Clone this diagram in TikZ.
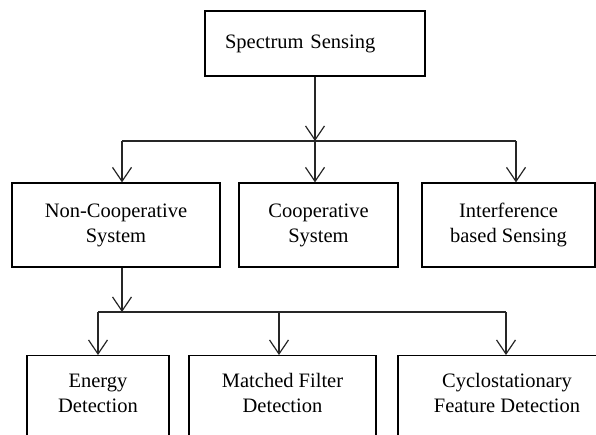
\documentclass[tikz,border=0pt]{standalone}
\usepackage{fontspec}
\setmainfont{Liberation Serif}
\usetikzlibrary{arrows.meta}

\begin{document}
\begin{tikzpicture}[x=1pt,y=1pt,line width=1.2pt,
  box/.style={draw,align=center,inner sep=0pt,font=\fontsize{20.5}{25}\selectfont},
  arr/.style={-{Straight Barb[length=14pt,width=19pt]},draw=black!85}]

\clip (0,0) rectangle (596,434);

% top
\node[box,minimum width=220pt,minimum height=65pt,text width=180pt,align=left] (S0) at (315,390.5) {Spectrum Sensing};

\coordinate (J0) at (315,293);
\coordinate (J1) at (122,293);
\coordinate (J3) at (516,293);

% 1
\node[box,minimum width=208pt,minimum height=84pt] (A1) at (116,209) {Non-Cooperative\\System};
\node[box,minimum width=159pt,minimum height=84pt] (A2) at (318.5,209) {Cooperative\\System};
\node[box,minimum width=173pt,minimum height=84pt] (A3) at (508.5,209) {Interference\\based Sensing};

\draw[arr] (S0) -- (J0);
\draw[draw=black!85] (J1) -- (J3);
\draw[arr] (J1) -- (J1 |- A1.north);
\draw[arr] (J0) -- (J0 |- A2.north);
\draw[arr] (J3) -- (J3 |- A3.north);

% 2
\coordinate (K0) at (122,122);
\coordinate (K1) at (98,122);
\coordinate (K2) at (279,122);
\coordinate (K3) at (506,122);

\node[box,anchor=north,minimum width=142pt,inner ysep=18pt,text depth=70pt] (B1) at (98,79) {Energy\\Detection};
\node[box,anchor=north,minimum width=187pt,inner ysep=18pt,text depth=70pt] (B2) at (282.5,79) {Matched Filter\\Detection};
\node[box,anchor=north,minimum width=218pt,inner ysep=18pt,text depth=70pt] (B3) at (507,79) {Cyclostationary\\Feature Detection};

\draw[arr] (A1.south -| K0) -- (K0);
\draw[draw=black!85] (K1) -- (K3);
\draw[arr] (K1) -- (K1 |- B1.north);
\draw[arr] (K2) -- (K2 |- B2.north);
\draw[arr] (K3) -- (K3 |- B3.north);

\end{tikzpicture}
\end{document}
